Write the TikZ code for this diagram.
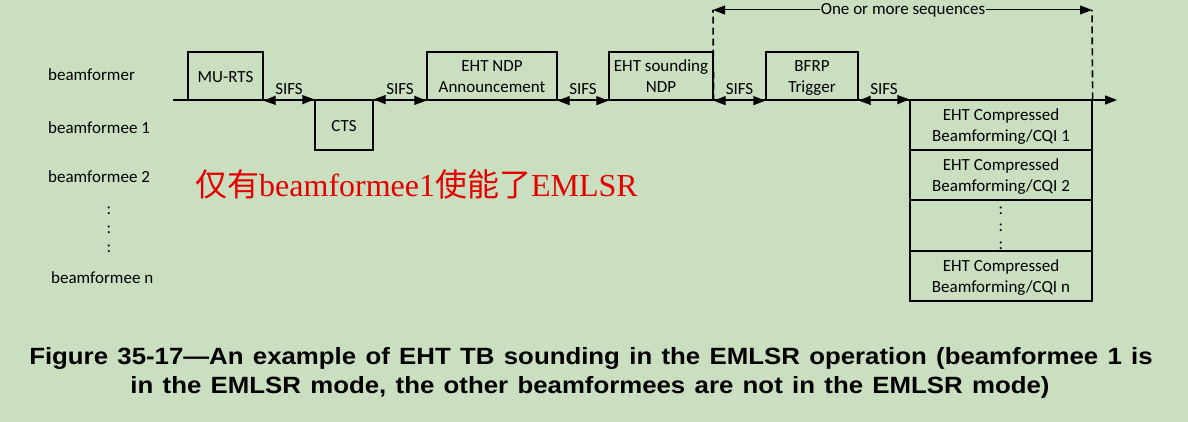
\documentclass[tikz,border=0pt]{standalone}
\usepackage{fontspec}
\setmainfont{Carlito}
\newfontfamily\capfont{Liberation Sans}
\newfontfamily\cjk{Noto Sans CJK SC}
\newfontfamily\latserif{Liberation Serif}
\usetikzlibrary{arrows.meta}
\definecolor{bgc}{RGB}{201,223,192}
\definecolor{redtxt}{RGB}{228,0,0}
\begin{document}
\begin{tikzpicture}[x=1pt,y=-1pt,
  every node/.style={font=\fontsize{17}{20}\selectfont, inner sep=0pt},
  frame/.style={draw, line width=1.3pt, rectangle, align=center, minimum height=48pt},
  one/.style={text height=13pt, text depth=0pt},
  two/.style={font=\fontsize{17}{21}\selectfont, text height=36.5pt, text depth=4pt},
  lbl/.style={anchor=west},
  tip/.style={-{Triangle[length=12pt,width=9pt]}},
  sifs/.style={{Triangle[length=12pt,width=9pt]}-{Triangle[length=12pt,width=9pt]}, line width=1.3pt},
  dsh/.style={line width=1.6pt, dash pattern=on 7pt off 4pt},
  captxt/.style={anchor=base, font=\capfont\bfseries\fontsize{23.5}{26}\selectfont}]
\fill[bgc] (0,0) rectangle (1188,422);
\useasboundingbox (0,0) rectangle (1188,422);

% row labels
\node[lbl] (bfr) at (48,75) {beamformer};
\node[lbl] (bfe1) at (48,128) {beamformee 1};
\node[lbl] (bfe2) at (48,177) {beamformee 2};
\node (d1) at (109,211) {:};
\node (d2) at (109,230) {:};
\node (d3) at (109,249) {:};
\node[lbl] (bfen) at (51,278) {beamformee n};

% timeline
\coordinate (tstart) at (173,100);
\coordinate (tend) at (1117,100);
\draw[tip, line width=1.3pt] (tstart) -- (tend);

% frames
\node[frame, one, minimum width=75pt] (murts) at (225.5,76) {MU-RTS};
\node[frame, one, minimum width=58pt, minimum height=50pt] (cts) at (344,125) {CTS};
\node[frame, two, minimum width=130pt] (ndpa) at (492,76) {EHT NDP\\Announcement};
\node[frame, two, minimum width=104pt] (ndp) at (661,76) {EHT sounding\\NDP};
\node[frame, two, minimum width=92pt] (bfrp) at (812,76) {BFRP\\Trigger};
\node[frame, two, minimum width=182pt, minimum height=50pt] (cqi1) at (1001,125) {EHT Compressed\\Beamforming/CQI 1};
\node[frame, two, minimum width=182pt, minimum height=50pt] (cqi2) at (1001,175) {EHT Compressed\\Beamforming/CQI 2};
\node[frame, minimum width=182pt, minimum height=51pt, font=\fontsize{17}{17.5}\selectfont,
      text height=47pt, text depth=0pt] (cqid) at (1001,225.5) {:\\:\\:};
\node[frame, two, minimum width=182pt, minimum height=50pt] (cqin) at (1001,276) {EHT Compressed\\Beamforming/CQI n};

% SIFS intervals
\draw[sifs] (murts.south east) -- node[above=5pt] (s1) {SIFS} (cts.north west);
\draw[sifs] (cts.north east) -- node[above=5pt] (s2) {SIFS} (ndpa.south west);
\draw[sifs] (ndpa.south east) -- node[above=5pt] (s3) {SIFS} (ndp.south west);
\draw[sifs] (ndp.south east) -- node[above=5pt] (s4) {SIFS} (bfrp.south west);
\draw[sifs] (bfrp.south east) -- node[above=5pt] (s5) {SIFS} (cqi1.north west);

% one or more sequences
\coordinate (seqL) at (713,10);
\coordinate (seqR) at (1092,10);
\draw[dsh] (ndp.south east) -- (seqL);
\draw[dsh] (cqi1.north east) -- (seqR);
\draw[sifs, line width=1pt] (seqL) -- (seqR);
\node[fill=bgc, inner xsep=1pt, inner ysep=2pt] (seq) at (903,10) {One or more sequences};

% red note
\node[text=redtxt, anchor=west, font=\fontsize{32}{34}\selectfont] (note) at (195,184)
  {\cjk 仅有\latserif beamformee1\cjk 使能了\latserif EMLSR};

% caption
\node[captxt] (cap1) at (591,364)
  {\scalebox{1.098}[1]{\spaceskip=8.5pt\relax Figure 35-17—An example of EHT TB sounding in the EMLSR operation (beamformee 1 is}};
\node[captxt] (cap2) at (590,393)
  {\scalebox{1.098}[1]{\spaceskip=8.5pt\relax in the EMLSR mode, the other beamformees are not in the EMLSR mode)}};
\end{tikzpicture}
\end{document}
